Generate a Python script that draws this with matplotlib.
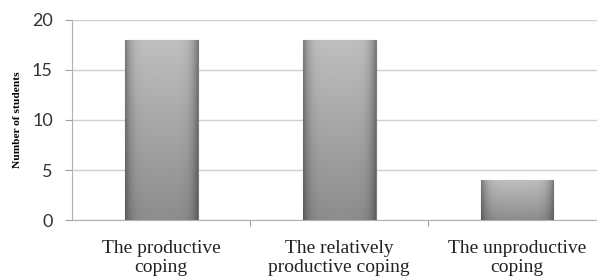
import matplotlib
matplotlib.use("Agg")
import matplotlib.pyplot as plt
import numpy as np

categories = ["The productive\ncoping", "The relatively\nproductive coping", "The unproductive\ncoping"]
values = [18, 18, 4]
yticks = [0, 5, 10, 15, 20]

fig = plt.figure(figsize=(5.97, 2.8), dpi=100)
ax = fig.add_axes([0.121, 0.214, 0.894, 0.715])

x = np.arange(len(categories))
bars = ax.bar(x, values, width=0.41, color="#a8a8a8", edgecolor="#7a7a7a", linewidth=0.8, zorder=2)

# gradient fill clipped to each bar
grad = np.linspace(0, 1, 256).reshape(-1, 1)
hgrad = np.linspace(0, 1, 64)
side = 1 - 0.35 * (np.abs(hgrad - 0.5) * 2) ** 6
img = (0.55 + 0.20 * grad) * side[None, :]
for b in bars:
    bx, by = b.get_x(), b.get_y()
    w, h = b.get_width(), b.get_height()
    im = ax.imshow(img, cmap="gray", vmin=0, vmax=1, extent=[bx, bx + w, by, by + h],
                   origin="lower", aspect="auto", zorder=3, interpolation="bicubic")
    im.set_clip_path(b)

ax.set_xlim(-0.5, 2.5)
ax.set_ylim(0, 20)
ax.set_yticks(yticks)
ax.set_xticks(x)
ax.set_xticklabels(categories, fontfamily="Liberation Serif", fontsize=14, linespacing=1.2,
                   color="#222222")
ax.set_xticks([0.5, 1.5], minor=True)
ax.tick_params(axis="x", which="major", length=0, pad=14)
ax.tick_params(axis="x", which="minor", length=4, color="#a0a0a0", width=0.8)
ax.tick_params(axis="y", length=5, color="#a0a0a0", width=0.8, labelsize=13, pad=9)
for lab in ax.get_yticklabels():
    lab.set_fontfamily("Lato")
    lab.set_color("#333333")

ax.grid(axis="y", color="#d0d0d0", linewidth=1.0, zorder=0)
ax.set_axisbelow(True)
for s in ["top", "right"]:
    ax.spines[s].set_visible(False)
ax.spines["left"].set_color("#b0b0b0")
ax.spines["bottom"].set_color("#b0b0b0")

ax.set_ylabel("Number of students", fontfamily="Liberation Serif", fontweight="bold", fontsize=8.2, labelpad=7)

fig.savefig("out.png", dpi=100)
